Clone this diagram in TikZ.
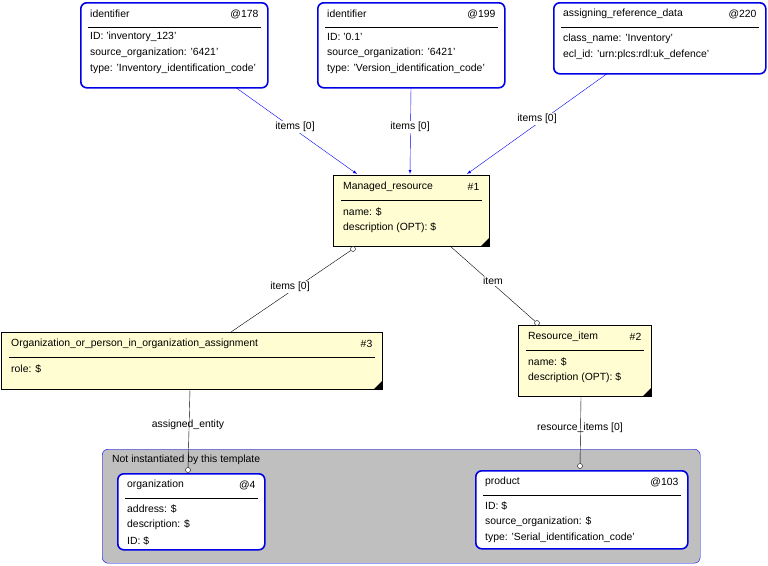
\documentclass[tikz,border=0pt]{standalone}
\usepackage{fontspec}
\setmainfont{Liberation Sans}
\begin{document}
\begin{tikzpicture}[x=1pt,y=-1pt,font=\fontsize{10.4}{12}\selectfont,
  inst/.style={draw=blue!90!black,line width=1.6pt,rounded corners=6pt,fill=white,anchor=north west,inner sep=0pt},
  ent/.style={draw=black,line width=0.5pt,fill=yellow!18,anchor=north west,inner sep=0pt},
  txt/.style={anchor=west,inner sep=0pt},
  lbl/.style={fill=white,inner sep=1pt},
  barr/.style={draw=blue,-{latex}},
  circ/.style={circle,draw,fill=white,inner sep=0pt,minimum size=5pt}]
\useasboundingbox (0,0) rectangle (768,565);
\node[draw=blue,rounded corners=6pt,fill=black!25,anchor=north west,minimum width=598pt,minimum height=114pt,inner sep=0pt] (reg) at (102,449) {};
\node[txt] (regl) at (112,460) {Not instantiated by this template};
\newcommand{\mybox}[8]{%
  \node[#2,minimum width=#5pt,minimum height=#6pt] (#1) at (#3,#4) {};
  \node[txt] (#1t) at ([shift={(10,12)}]#1.north west) {#7};
  \node[anchor=east,inner sep=0pt] (#1g) at ([shift={(-10,12)}]#1.north east) {#8};
  \draw ([shift={(8,25)}]#1.north west) -- ([shift={(-8,25)}]#1.north east);}
\mybox{i178}{inst}{80}{2}{187}{85}{identifier}{@178}
\node[txt] (a1) at (90,37) {ID: 'inventory\_123'};
\node[txt] (a2) at (90,53) {source\_organization: '6421'};
\node[txt] (a3) at (90,69) {type: 'Inventory\_identification\_code'};
\mybox{i199}{inst}{317}{2}{187}{85}{identifier}{@199}
\node[txt] (b1) at (327,37) {ID: '0.1'};
\node[txt] (b2) at (327,53) {source\_organization: '6421'};
\node[txt] (b3) at (327,69) {type: 'Version\_identification\_code'};
\mybox{i220}{inst}{553}{2}{212}{71}{assigning\_reference\_data}{@220}
\node[txt] (c1) at (563,39) {class\_name: 'Inventory'};
\node[txt] (c2) at (563,55) {ecl\_id: 'urn:plcs:rdl:uk\_defence'};
\mybox{mr}{ent}{333}{175}{156}{71}{Managed\_resource}{\#1}
\node[txt] (d1) at (343,212) {name: \$};
\node[txt] (d2) at (343,228) {description (OPT): \$};
\mybox{org}{ent}{1}{332}{381}{57}{Organization\_or\_person\_in\_organization\_assignment}{\#3}
\node[txt] (e1) at (11,369) {role: \$};
\mybox{ri}{ent}{518}{325}{133}{71}{Resource\_item}{\#2}
\node[txt] (f1) at (528,362) {name: \$};
\node[txt] (f2) at (528,378) {description (OPT): \$};
\mybox{o4}{inst}{117}{473}{147}{76}{organization}{@4}
\node[txt] (g1) at (127,509) {address: \$};
\node[txt] (g2) at (127,525) {description: \$};
\node[txt] (g3) at (127,541) {ID: \$};
\mybox{p103}{inst}{475}{470}{212}{78}{product}{@103}
\node[txt] (h1) at (485,506) {ID: \$};
\node[txt] (h2) at (485,522) {source\_organization: \$};
\node[txt] (h3) at (485,538) {type: 'Serial\_identification\_code'};
\foreach \n in {mr,org,ri}{\fill (\n.south east) -- ++(-9,0) -- ++(9,-9) -- cycle;}
\coordinate (s1) at (235,87); \coordinate (t1) at (357,174);
\coordinate (s2) at (411,87); \coordinate (t2) at (410,174);
\coordinate (s3) at (608,73); \coordinate (t3) at (467,174);
\draw[barr] (s1) -- (t1);
\draw[barr] (s2) -- (t2);
\draw[barr] (s3) -- (t3);
\node[lbl] (l1) at (295,127) {items [0]};
\node[lbl] (l2) at (410,127) {items [0]};
\node[lbl] (l3) at (537,119) {items [0]};
\node[circ] (k1) at (353,249) {};
\coordinate (k1e) at (231,332);
\draw (k1) -- (k1e);
\node[lbl] (l4) at (290,287) {items [0]};
\coordinate (k2s) at (450,246);
\node[circ] (k2) at (537,323) {};
\draw (k2s) -- (k2);
\node[lbl] (l5) at (493,281) {item};
\coordinate (k3s) at (190,389);
\node[circ] (k3) at (188,470) {};
\draw (k3s) -- (k3);
\node[lbl,fill=none] (l6) at (188,425) {assigned\_entity};
\coordinate (k4s) at (581,397);
\node[circ] (k4) at (580,466) {};
\draw (k4s) -- (k4);
\node[lbl,fill=none] (l7) at (580,428) {resource\_items [0]};
\end{tikzpicture}
\end{document}
